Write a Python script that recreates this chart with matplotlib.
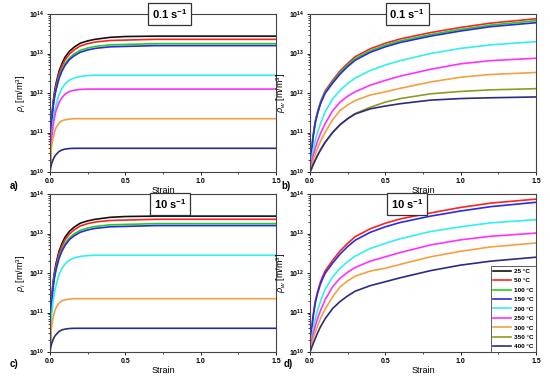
import numpy as np
import matplotlib
matplotlib.use('Agg')
import matplotlib.pyplot as plt
from matplotlib.ticker import LogLocator, MultipleLocator, NullFormatter

plt.rcParams['font.family'] = ['Liberation Sans', 'DejaVu Sans']
plt.rcParams['mathtext.fontset'] = 'custom'
plt.rcParams['mathtext.rm'] = 'Liberation Sans'
plt.rcParams['mathtext.it'] = 'Liberation Sans:italic'
plt.rcParams['mathtext.bf'] = 'Liberation Sans:bold'

temps = ["25 °C", "50 °C", "100 °C", "150 °C", "200 °C", "250 °C", "300 °C", "350 °C", "400 °C"]
colors = ['#111111', '#ff2020', '#20d020', '#2a2ae0', '#30f0f0', '#ff30ff', '#f5a040', '#8f9a20', '#2b2b80']

# values stored as log10 of dislocation density [m/m^3]
strain_i = [0, 0.005, 0.01, 0.02, 0.03, 0.04, 0.06, 0.08, 0.1, 0.13, 0.16, 0.2, 0.25, 0.3, 0.4, 0.5, 0.7, 1.0, 1.5]
rho_i = {
    "25 °C":  [10, 10.76, 11.27, 11.75, 12.03, 12.24, 12.55, 12.75, 12.91, 13.06, 13.16, 13.26, 13.32, 13.36, 13.41, 13.43, 13.44, 13.44, 13.44],
    "50 °C":  [10, 10.74, 11.24, 11.71, 11.98, 12.18, 12.49, 12.69, 12.84, 12.99, 13.09, 13.19, 13.25, 13.29, 13.33, 13.34, 13.36, 13.36, 13.36],
    "100 °C": [10, 10.72, 11.20, 11.66, 11.92, 12.11, 12.41, 12.60, 12.75, 12.89, 12.99, 13.08, 13.14, 13.18, 13.22, 13.23, 13.25, 13.25, 13.25],
    "150 °C": [10, 10.70, 11.18, 11.63, 11.89, 12.08, 12.37, 12.56, 12.70, 12.85, 12.94, 13.03, 13.09, 13.13, 13.17, 13.18, 13.20, 13.20, 13.20],
    "200 °C": [10, 10.54, 10.88, 11.27, 11.52, 11.69, 11.96, 12.12, 12.23, 12.33, 12.38, 12.42, 12.44, 12.45, 12.45, 12.45, 12.45, 12.45, 12.45],
    "250 °C": [10, 10.50, 10.82, 11.16, 11.39, 11.55, 11.76, 11.89, 11.97, 12.04, 12.07, 12.09, 12.10, 12.10, 12.10, 12.10, 12.10, 12.10, 12.10],
    "300 °C": [10, 10.38, 10.62, 10.86, 11.01, 11.12, 11.24, 11.30, 11.32, 11.34, 11.35, 11.35, 11.35, 11.35, 11.35, 11.35, 11.35, 11.35, 11.35],
    "400 °C": [10, 10.12, 10.20, 10.31, 10.39, 10.44, 10.52, 10.56, 10.58, 10.595, 10.60, 10.60, 10.60, 10.60, 10.60, 10.60, 10.60, 10.60, 10.60],
}

strain_w = [0, 0.01, 0.02, 0.035, 0.05, 0.07, 0.1, 0.15, 0.2, 0.25, 0.3, 0.4, 0.5, 0.6, 0.8, 1.0, 1.2, 1.5]
rho_w_01 = {
    "50 °C":  [10, 10.52, 10.90, 11.28, 11.52, 11.78, 12.05, 12.32, 12.56, 12.75, 12.92, 13.12, 13.26, 13.37, 13.53, 13.66, 13.77, 13.88],
    "100 °C": [10, 10.51, 10.88, 11.26, 11.50, 11.75, 12.02, 12.28, 12.52, 12.71, 12.87, 13.07, 13.21, 13.32, 13.48, 13.61, 13.72, 13.83],
    "150 °C": [10, 10.50, 10.87, 11.24, 11.48, 11.73, 11.99, 12.25, 12.48, 12.67, 12.83, 13.03, 13.17, 13.28, 13.44, 13.57, 13.68, 13.78],
    "200 °C": [10, 10.30, 10.55, 10.80, 11.00, 11.22, 11.52, 11.85, 12.07, 12.24, 12.38, 12.57, 12.71, 12.82, 13.00, 13.13, 13.22, 13.30],
    "250 °C": [10, 10.22, 10.40, 10.60, 10.78, 10.98, 11.22, 11.55, 11.77, 11.92, 12.03, 12.20, 12.32, 12.43, 12.60, 12.74, 12.82, 12.88],
    "300 °C": [10, 10.15, 10.28, 10.45, 10.60, 10.78, 11.00, 11.32, 11.56, 11.70, 11.81, 11.95, 12.03, 12.12, 12.28, 12.40, 12.47, 12.52],
    "350 °C": [10, 10.08, 10.18, 10.30, 10.42, 10.56, 10.75, 11.00, 11.20, 11.35, 11.48, 11.64, 11.77, 11.86, 11.98, 12.04, 12.08, 12.11],
    "400 °C": [10, 10.08, 10.18, 10.30, 10.42, 10.56, 10.75, 11.00, 11.20, 11.35, 11.47, 11.60, 11.67, 11.73, 11.82, 11.86, 11.88, 11.90],
}
rho_w_10 = {
    "50 °C":  [10, 10.52, 10.90, 11.28, 11.52, 11.78, 12.05, 12.32, 12.56, 12.75, 12.92, 13.12, 13.26, 13.37, 13.52, 13.66, 13.77, 13.87],
    "150 °C": [10, 10.50, 10.87, 11.24, 11.48, 11.73, 11.99, 12.25, 12.48, 12.67, 12.83, 13.03, 13.17, 13.28, 13.44, 13.57, 13.68, 13.79],
    "200 °C": [10, 10.32, 10.58, 10.84, 11.05, 11.28, 11.58, 11.90, 12.12, 12.29, 12.43, 12.62, 12.75, 12.87, 13.05, 13.17, 13.27, 13.35],
    "250 °C": [10, 10.24, 10.44, 10.66, 10.85, 11.05, 11.32, 11.65, 11.87, 12.02, 12.14, 12.30, 12.41, 12.52, 12.71, 12.84, 12.93, 13.01],
    "300 °C": [10, 10.17, 10.32, 10.50, 10.66, 10.85, 11.08, 11.40, 11.65, 11.80, 11.92, 12.05, 12.12, 12.22, 12.41, 12.55, 12.66, 12.76],
    "400 °C": [10, 10.10, 10.20, 10.34, 10.48, 10.64, 10.84, 11.10, 11.28, 11.42, 11.54, 11.68, 11.78, 11.88, 12.06, 12.20, 12.30, 12.40],
}

col = dict(zip(temps, colors))

fig = plt.figure(figsize=(5.5, 3.85), dpi=100)
fig.patch.set_facecolor('white')

W, H = 0.411, 0.4104
rho_i_10 = {k: v for k, v in rho_i.items() if k != "250 °C"}
panels = [
    # rect, strain, data, rate, ylabel, letter, box x, box y, letter x, letter y
    ([0.0909, 0.5532, W, H], strain_i, rho_i, "0.1", r"$\rho_i$ [m/m$^3$]", "a)", 0.53, 1.0, -0.16, -0.09),
    ([0.5636, 0.5532, W, H], strain_w, rho_w_01, "0.1", r"$\rho_w$ [m/m$^3$]", "b)", 0.43, 1.0, -0.105, -0.09),
    ([0.0909, 0.0857, W, H], strain_i, rho_i_10, "10", r"$\rho_i$ [m/m$^3$]", "c)", 0.53, 0.935, -0.16, -0.075),
    ([0.5636, 0.0857, W, H], strain_w, rho_w_10, "10", r"$\rho_w$ [m/m$^3$]", "d)", 0.43, 0.935, -0.095, -0.075),
]

for rect, x, data, rate, ylab, letter, bx, by, lx, ly in panels:
    ax = fig.add_axes(rect)
    for t in temps:
        if t in data:
            ax.plot(x, 10 ** np.array(data[t]), color=col[t], lw=1.2)
    ax.set_yscale('log')
    ax.set_xlim(0, 1.5)
    ax.set_ylim(1e10, 1e14)
    ax.xaxis.set_major_locator(MultipleLocator(0.5))
    ax.xaxis.set_minor_locator(MultipleLocator(0.25))
    ax.xaxis.set_major_formatter(plt.FuncFormatter(lambda v, p: f"{v:.1f}"))
    ax.yaxis.set_major_locator(LogLocator(base=10, numticks=10))
    ax.yaxis.set_minor_locator(LogLocator(base=10, subs=np.arange(2, 10), numticks=20))
    ax.yaxis.set_minor_formatter(NullFormatter())
    ax.tick_params(which='major', labelsize=5, length=2.5, width=0.6, pad=1.5, direction='out')
    ax.tick_params(which='minor', length=1.5, width=0.5, direction='out')
    for tl in ax.get_xticklabels() + ax.get_yticklabels():
        tl.set_fontweight('bold')
    for s in ax.spines.values():
        s.set_color('#444444')
        s.set_linewidth(0.8)
    ax.set_xlabel("Strain", fontsize=6.5, labelpad=1)
    ax.set_ylabel(ylab, fontsize=6.5, labelpad=1)
    ax.text(bx, by, rate + r" s$^{\mathbf{-1}}$", transform=ax.transAxes, ha='center', va='center',
            fontsize=8, fontweight='bold', zorder=5,
            bbox=dict(boxstyle='square,pad=0.35', fc='white', ec='#333333', lw=0.9))
    ax.text(lx, ly, letter, transform=ax.transAxes, fontsize=7, fontweight='bold',
            ha='center', va='center')
    if letter == "d)":
        handles = [plt.Line2D([], [], color=c, lw=1.2) for c in colors]
        leg = ax.legend(handles, temps, loc='lower right', fontsize=4.6, frameon=True,
                        fancybox=False, edgecolor='#333333', handlelength=2.7,
                        handletextpad=0.5, labelspacing=0.62, borderpad=0.4,
                        borderaxespad=0.0)
        leg.get_frame().set_linewidth(0.7)
        for t in leg.get_texts():
            t.set_fontweight('bold')

fig.savefig("out.png", dpi=100, facecolor='white')
